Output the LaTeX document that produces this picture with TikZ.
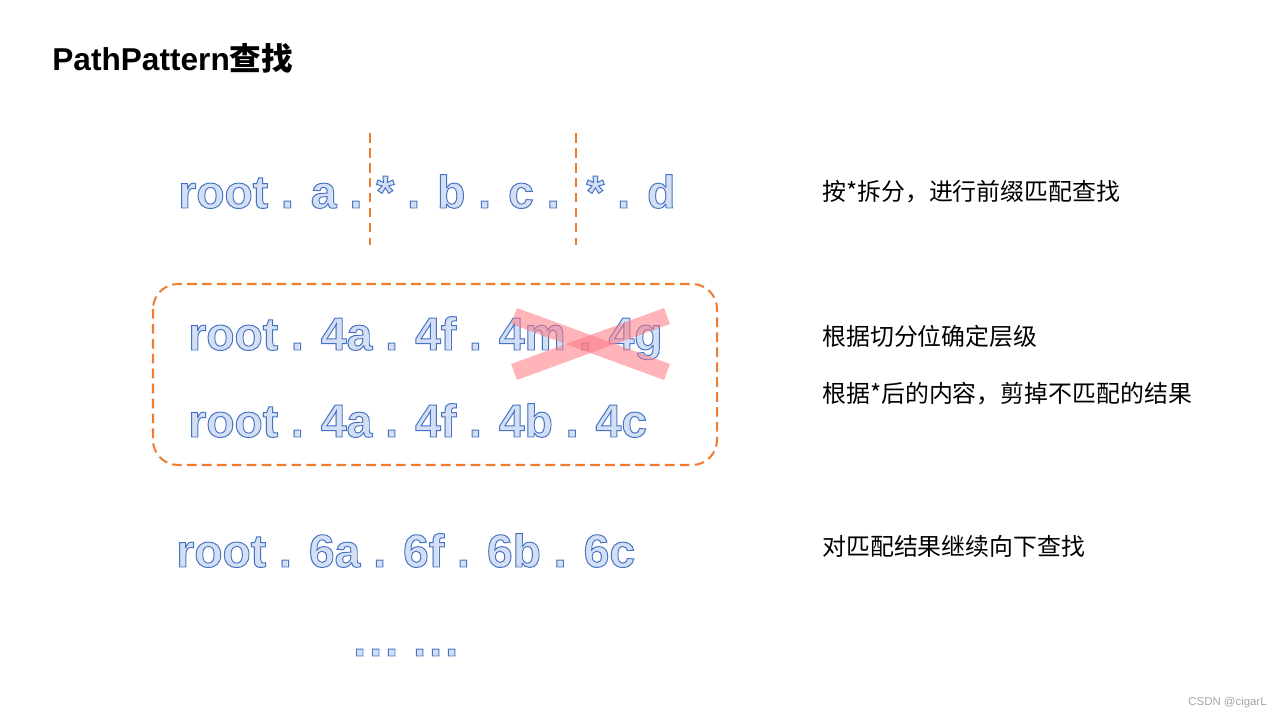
\documentclass[tikz,border=0pt]{standalone}
\usepackage{fontspec}
\setmainfont{Liberation Sans}
\newfontfamily\cjk{Noto Sans CJK SC}
\usepackage{tikz}
\usetikzlibrary{calc}
\definecolor{pathblue}{RGB}{68,114,196}
\definecolor{hatchblue}{RGB}{212,223,244}
\definecolor{cutorange}{RGB}{237,125,49}
\definecolor{crossred}{RGB}{255,120,130}
\definecolor{markgrey}{RGB}{165,165,165}

% outlined text with a pale fill
\newcommand{\hatched}[1]{\rlap{\color{hatchblue}#1}\special{pdf:literal direct 1 Tr 0.55 w}#1\special{pdf:literal direct 0 Tr}}

\begin{document}
\begin{tikzpicture}[x=0.02cm, y=-0.02cm, every node/.style={inner sep=0pt},
  pathrow/.style={anchor=base west, text=pathblue, font=\fontsize{26.3}{30}\selectfont\bfseries},
  note/.style={anchor=west, font=\cjk\fontsize{13.6}{16}\selectfont},
  cutline/.style={cutorange, line width=1.3pt, dash pattern=on 5.5pt off 3pt},
  groupbox/.style={cutorange, line width=1.15pt, dash pattern=on 5.5pt off 3pt, rounded corners=0.5cm},
  crossbar/.style={crossred, opacity=0.55, line width=0.34cm}]
    \fill[white] (0,0) rectangle (1280,720);
    \useasboundingbox (0,0) rectangle (1280,720);

    % Title
    \node[anchor=base west, font=\fontsize{18}{21}\selectfont\bfseries] (title) at (52,70) {PathPattern{\cjk\bfseries 查找}};

    % Split at *
    \node[pathrow] (r1a) at (178,208) {\hatched{root . a .}};
    \node[pathrow] (r1b) at (376,208) {\hatched{* . b . c .}};
    \node[pathrow] (r1c) at (586,208) {\hatched{* . d}};
    \coordinate (cut1) at ($(r1b.base west)+(-6,0)$);
    \coordinate (cut2) at ($(r1c.base west)+(-10,0)$);
    \draw[cutline] (cut1 |- 0,133) -- (cut1 |- 0,245);
    \draw[cutline] (cut2 |- 0,133) -- (cut2 |- 0,245);

    % Matched levels
    \draw[groupbox] (153,284) rectangle (717,465);
    \node[pathrow] (r2) at (188,350) {\hatched{root . 4a . 4f . 4m . 4g}};
    \node[pathrow] (r3) at (188,437) {\hatched{root . 4a . 4f . 4b . 4c}};
    \draw[crossbar] (514,316) -- (667,372);
    \draw[crossbar] (514,372) -- (667,316);

    % Next level
    \node[pathrow] (r4) at (176,567) {\hatched{root . 6a . 6f . 6b . 6c}};
    \node[pathrow] (r5) at (353,656) {\hatched{.\kern1.8pt.\kern1.8pt.\kern8.6pt.\kern1.8pt.\kern1.8pt.}};

    % Notes
    \node[note] (n1) at (822,192) {按*拆分，进行前缀匹配查找};
    \node[note] (n2) at (822,336) {根据切分位确定层级};
    \node[note] (n3) at (822,394) {根据*后的内容，剪掉不匹配的结果};
    \node[note] (n4) at (822,546) {对匹配结果继续向下查找};

    \node[anchor=east, font=\fontsize{6.5}{8}\selectfont, text=markgrey] (mark) at (1267,703) {CSDN @cigarL};
\end{tikzpicture}
\end{document}
